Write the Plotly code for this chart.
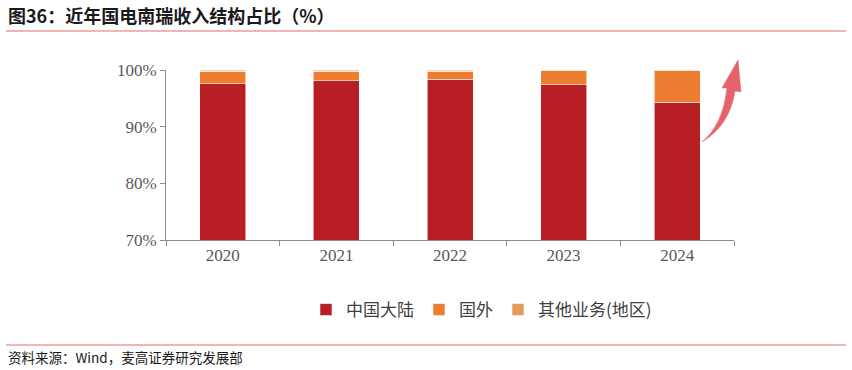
import plotly.graph_objects as go

years = ["2020", "2021", "2022", "2023", "2024"]
mainland = [97.6, 98.1, 98.4, 97.4, 94.3]
overseas = [2.2, 1.7, 1.4, 2.6, 5.7]
other = [0.2, 0.2, 0.2, 0.0, 0.0]
series_names = ["中国大陆", "国外", "其他业务(地区)"]
colors = ["#B81F24", "#ED7D31", "#E39A5B"]

W, H = 852, 370
L, R, T, B = 166, 734, 70, 240  # plot area in pixels

def px(x):
    return (x - L) / (R - L)

def py(y):
    return (B - y) / (B - T)

fig = go.Figure()
for name, vals, col in zip(series_names, [mainland, overseas, other], colors):
    fig.add_trace(go.Bar(
        x=years, y=vals, name=name,
        marker=dict(color=col, line=dict(color="rgba(255,255,255,0.55)", width=1)),
    ))

cjk = "Noto Sans CJK SC"
serif = "Liberation Serif"

fig.update_layout(
    width=W, height=H,
    margin=dict(l=L, r=W - R, t=T, b=H - B),
    barmode="stack",
    bargap=0.595,
    plot_bgcolor="white", paper_bgcolor="white",
    showlegend=True,
    legend=dict(
        orientation="h", x=px(306), y=py(310), xanchor="left", yanchor="middle",
        font=dict(family=cjk, size=17, color="#404040"),
        traceorder="normal", itemwidth=30,
    ),
    xaxis=dict(
        showline=True, linecolor="#8C8C8C", linewidth=1,
        ticks="outside", ticklen=5, tickcolor="#8C8C8C", tickson="boundaries",
        tickfont=dict(family=serif, size=17, color="#595959"),
        showgrid=False,
    ),
    yaxis=dict(
        range=[70, 100], tickvals=[70, 80, 90, 100],
        ticktext=["70%", "80%", "90%", "100%"],
        showline=True, linecolor="#8C8C8C", linewidth=1,
        ticks="outside", ticklen=5, tickcolor="#8C8C8C",
        tickfont=dict(family=serif, size=17, color="#595959"),
        showgrid=False, zeroline=False,
    ),
)

# Title
fig.add_annotation(
    text="<b>图36：近年国电南瑞收入结构占比（%）</b>",
    xref="paper", yref="paper", x=px(6), y=py(15), xanchor="left", yanchor="middle",
    showarrow=False, font=dict(family=cjk, size=18, color="#1a1a1a"),
)
# Source
fig.add_annotation(
    text="资料来源：Wind，麦高证券研究发展部",
    xref="paper", yref="paper", x=px(6), y=py(357), xanchor="left", yanchor="middle",
    showarrow=False, font=dict(family=cjk, size=13.5, color="#1a1a1a"),
)
# Red separator lines
for yy in (31, 345):
    fig.add_shape(type="line", xref="paper", yref="paper",
                  x0=px(6), x1=px(846), y0=py(yy), y1=py(yy),
                  line=dict(color="#E46C6C", width=1.2))

# Curved arrow
pts = [("M", [(702, 142)]),
       ("Q", [(723, 125), (727, 88)]),
       ("L", [(722, 88)]),
       ("L", [(738, 60)]),
       ("L", [(741, 92)]),
       ("L", [(735, 91)]),
       ("Q", [(730, 125), (702, 142)])]
path = ""
for cmd, plist in pts:
    path += cmd + " " + " ".join(f"{px(a):.5f},{py(b):.5f}" for a, b in plist) + " "
path += "Z"
fig.add_shape(type="path", xref="paper", yref="paper", path=path,
              fillcolor="#E5636A", line=dict(color="#E5636A", width=0.5))

fig.write_html("out.html")
